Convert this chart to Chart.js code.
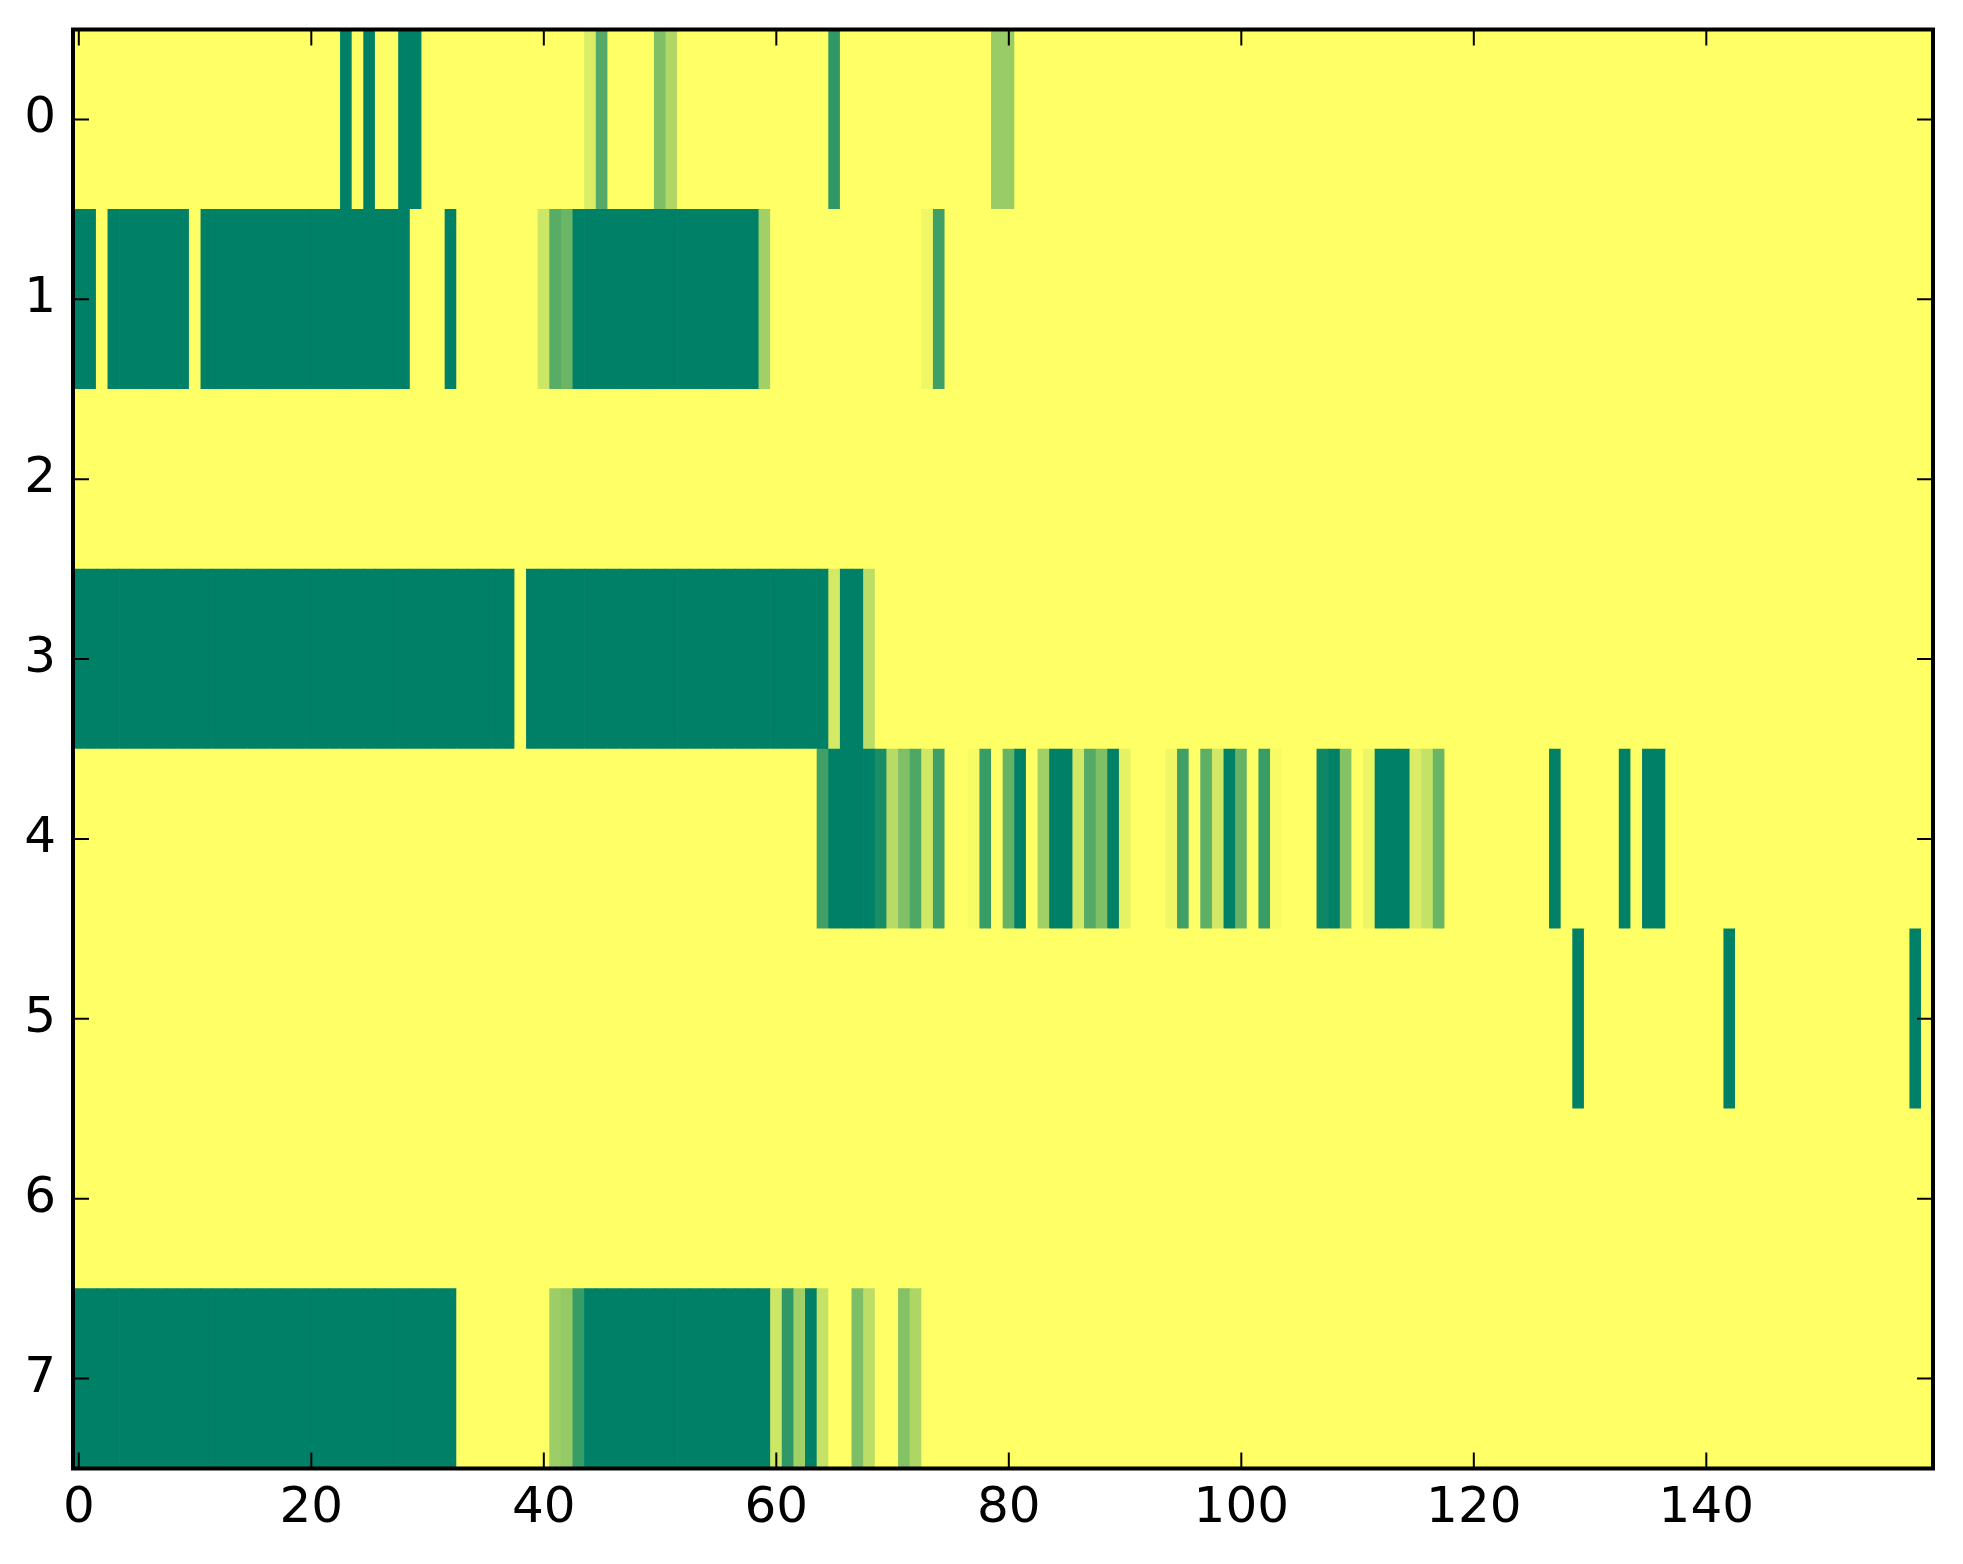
<!DOCTYPE html>
<html>
<head>
<meta charset="utf-8">
<script src="https://cdn.jsdelivr.net/npm/chart.js@4.4.0/dist/chart.umd.min.js"></script>
<style>
  html, body { margin: 0; padding: 0; background: #fff; }
  #wrap { width: 1963px; height: 1564px; }
</style>
</head>
<body>
<div id="wrap"><canvas id="heat"></canvas></div>
<script>
const rowLabels = ['0', '1', '2', '3', '4', '5', '6', '7'];
const xTicks = [0, 20, 40, 60, 80, 100, 120, 140];

// one array per image row, 160 columns each (0 = green, 1 = yellow)
const row0 = [
  1,1,1,1,1,1,1,1,1,1,1,1,1,1,1,1,1,1,1,1,
  1,1,1,0,1,0,1,1,0,0,1,1,1,1,1,1,1,1,1,1,
  1,1,1,1,0.86,0.33,1,1,1,1,0.5,0.69,1,1,1,1,1,1,1,1,
  1,1,1,1,1,0.19,1,1,1,1,1,1,1,1,1,1,1,1,1,0.6,
  0.6,1,1,1,1,1,1,1,1,1,1,1,1,1,1,1,1,1,1,1,
  1,1,1,1,1,1,1,1,1,1,1,1,1,1,1,1,1,1,1,1,
  1,1,1,1,1,1,1,1,1,1,1,1,1,1,1,1,1,1,1,1,
  1,1,1,1,1,1,1,1,1,1,1,1,1,1,1,1,1,1,1,1
];
const row1 = [
  0,0,1,0,0,0,0,0,0,0,1,0,0,0,0,0,0,0,0,0,
  0,0,0,0,0,0,0,0,0,1,1,1,0,1,1,1,1,1,1,1,
  0.8,0.35,0.42,0,0,0,0,0,0,0,0,0,0,0,0,0,0,0,0,0.63,
  1,1,1,1,1,1,1,1,1,1,1,1,1,0.94,0.25,1,1,1,1,1,
  1,1,1,1,1,1,1,1,1,1,1,1,1,1,1,1,1,1,1,1,
  1,1,1,1,1,1,1,1,1,1,1,1,1,1,1,1,1,1,1,1,
  1,1,1,1,1,1,1,1,1,1,1,1,1,1,1,1,1,1,1,1,
  1,1,1,1,1,1,1,1,1,1,1,1,1,1,1,1,1,1,1,1
];
const row2 = [
  1,1,1,1,1,1,1,1,1,1,1,1,1,1,1,1,1,1,1,1,
  1,1,1,1,1,1,1,1,1,1,1,1,1,1,1,1,1,1,1,1,
  1,1,1,1,1,1,1,1,1,1,1,1,1,1,1,1,1,1,1,1,
  1,1,1,1,1,1,1,1,1,1,1,1,1,1,1,1,1,1,1,1,
  1,1,1,1,1,1,1,1,1,1,1,1,1,1,1,1,1,1,1,1,
  1,1,1,1,1,1,1,1,1,1,1,1,1,1,1,1,1,1,1,1,
  1,1,1,1,1,1,1,1,1,1,1,1,1,1,1,1,1,1,1,1,
  1,1,1,1,1,1,1,1,1,1,1,1,1,1,1,1,1,1,1,1
];
const row3 = [
  0,0,0,0,0,0,0,0,0,0,0,0,0,0,0,0,0,0,0,0,
  0,0,0,0,0,0,0,0,0,0,0,0,0,0,0,0,0,0,1,0,
  0,0,0,0,0,0,0,0,0,0,0,0,0,0,0,0,0,0,0,0,
  0,0,0,0,0,0.83,0,0,0.74,1,1,1,1,1,1,1,1,1,1,1,
  1,1,1,1,1,1,1,1,1,1,1,1,1,1,1,1,1,1,1,1,
  1,1,1,1,1,1,1,1,1,1,1,1,1,1,1,1,1,1,1,1,
  1,1,1,1,1,1,1,1,1,1,1,1,1,1,1,1,1,1,1,1,
  1,1,1,1,1,1,1,1,1,1,1,1,1,1,1,1,1,1,1,1
];
const row4 = [
  1,1,1,1,1,1,1,1,1,1,1,1,1,1,1,1,1,1,1,1,
  1,1,1,1,1,1,1,1,1,1,1,1,1,1,1,1,1,1,1,1,
  1,1,1,1,1,1,1,1,1,1,1,1,1,1,1,1,1,1,1,1,
  1,1,1,1,0.25,0,0,0,0,0.1,0.72,0.5,0.31,0.82,0.25,1,1,0.97,0.22,1,
  0.4,0,1,0.63,0,0,0.82,0.33,0.5,0,0.9,1,1,1,0.94,0.25,1,0.37,0.82,0,
  0.4,1,0.22,0.97,1,1,1,0.06,0,0.52,1,0.92,0,0,0,0.86,0.77,0.42,1,1,
  1,1,1,1,1,1,1,0,1,1,1,1,1,0,1,0,0,1,1,1,
  1,1,1,1,1,1,1,1,1,1,1,1,1,1,1,1,1,1,1,1
];
const row5 = [
  1,1,1,1,1,1,1,1,1,1,1,1,1,1,1,1,1,1,1,1,
  1,1,1,1,1,1,1,1,1,1,1,1,1,1,1,1,1,1,1,1,
  1,1,1,1,1,1,1,1,1,1,1,1,1,1,1,1,1,1,1,1,
  1,1,1,1,1,1,1,1,1,1,1,1,1,1,1,1,1,1,1,1,
  1,1,1,1,1,1,1,1,1,1,1,1,1,1,1,1,1,1,1,1,
  1,1,1,1,1,1,1,1,1,1,1,1,1,1,1,1,1,1,1,1,
  1,1,1,1,1,1,1,1,1,0,1,1,1,1,1,1,1,1,1,1,
  1,1,0,1,1,1,1,1,1,1,1,1,1,1,1,1,1,1,0,1
];
const row6 = [
  1,1,1,1,1,1,1,1,1,1,1,1,1,1,1,1,1,1,1,1,
  1,1,1,1,1,1,1,1,1,1,1,1,1,1,1,1,1,1,1,1,
  1,1,1,1,1,1,1,1,1,1,1,1,1,1,1,1,1,1,1,1,
  1,1,1,1,1,1,1,1,1,1,1,1,1,1,1,1,1,1,1,1,
  1,1,1,1,1,1,1,1,1,1,1,1,1,1,1,1,1,1,1,1,
  1,1,1,1,1,1,1,1,1,1,1,1,1,1,1,1,1,1,1,1,
  1,1,1,1,1,1,1,1,1,1,1,1,1,1,1,1,1,1,1,1,
  1,1,1,1,1,1,1,1,1,1,1,1,1,1,1,1,1,1,1,1
];
const row7 = [
  0,0,0,0,0,0,0,0,0,0,0,0,0,0,0,0,0,0,0,0,
  0,0,0,0,0,0,0,0,0,0,0,0,0,1,1,1,1,1,1,1,
  1,0.61,0.58,0.22,0,0,0,0,0,0,0,0,0,0,0,0,0,0,0,0,
  0.8,0.19,0.63,0,0.77,1,1,0.49,0.74,1,1,0.52,0.68,1,1,1,1,1,1,1,
  1,1,1,1,1,1,1,1,1,1,1,1,1,1,1,1,1,1,1,1,
  1,1,1,1,1,1,1,1,1,1,1,1,1,1,1,1,1,1,1,1,
  1,1,1,1,1,1,1,1,1,1,1,1,1,1,1,1,1,1,1,1,
  1,1,1,1,1,1,1,1,1,1,1,1,1,1,1,1,1,1,1,1
];
const rows = [row0, row1, row2, row3, row4, row5, row6, row7];

// matplotlib "summer" colormap
function summer(v) {
  const r = Math.round(255 * v);
  const g = Math.round(127.5 + 127.5 * v);
  return 'rgb(' + r + ',' + g + ',102)';
}

const cells = [];
const cellColors = [];
rows.forEach(function(vals, r) {
  vals.forEach(function(v, c) {
    cells.push({ x: [c - 0.5, c + 0.5], y: rowLabels[r] });
    cellColors.push(summer(v));
  });
});

const tickFont = { family: 'DejaVu Sans', size: 50 };

// axes frame and inward tick marks on all four sides
const frame = {
  id: 'frame',
  afterDatasetsDraw(chart) {
    const ctx = chart.ctx;
    const a = chart.chartArea;
    const xs = chart.scales.x;
    const ys = chart.scales.y;
    const len = 16;
    ctx.save();
    ctx.strokeStyle = '#000';
    ctx.lineWidth = 2;
    ctx.beginPath();
    xs.ticks.forEach(function(t, i) {
      const px = xs.getPixelForTick(i);
      ctx.moveTo(px, a.bottom); ctx.lineTo(px, a.bottom - len);
      ctx.moveTo(px, a.top); ctx.lineTo(px, a.top + len);
    });
    ys.ticks.forEach(function(t, i) {
      const py = ys.getPixelForTick(i);
      ctx.moveTo(a.left, py); ctx.lineTo(a.left + len, py);
      ctx.moveTo(a.right, py); ctx.lineTo(a.right - len, py);
    });
    ctx.stroke();
    ctx.lineWidth = 4;
    ctx.strokeRect(a.left, a.top, a.right - a.left, a.bottom - a.top);
    ctx.restore();
  }
};

new Chart(document.getElementById('heat'), {
  type: 'bar',
  data: {
    labels: rowLabels,
    datasets: [{
      data: cells,
      backgroundColor: cellColors,
      borderWidth: 0,
      barPercentage: 1,
      categoryPercentage: 1,
      grouped: false
    }]
  },
  options: {
    indexAxis: 'y',
    responsive: true,
    maintainAspectRatio: false,
    animation: false,
    devicePixelRatio: 1,
    layout: { padding: { left: 0, top: 29.5, right: 30, bottom: 0 } },
    plugins: { legend: { display: false }, tooltip: { enabled: false } },
    scales: {
      x: {
        type: 'linear',
        min: -0.5,
        max: 159.5,
        grid: { display: false, drawTicks: false },
        border: { display: false },
        ticks: { font: tickFont, color: '#000', padding: 11, maxRotation: 0 },
        afterBuildTicks: function(scale) {
          scale.ticks = xTicks.map(function(v) { return { value: v }; });
        },
        afterFit: function(scale) {
          scale.height = 95.5;
          scale.paddingLeft = 0;
          scale.paddingRight = 0;
        }
      },
      y: {
        type: 'category',
        offset: true,
        grid: { display: false, drawTicks: false },
        border: { display: false },
        ticks: { font: tickFont, color: '#000', padding: 17 },
        afterFit: function(scale) {
          scale.width = 73;
          scale.paddingTop = 0;
          scale.paddingBottom = 0;
        }
      }
    }
  },
  plugins: [frame]
});
</script>
</body>
</html>
